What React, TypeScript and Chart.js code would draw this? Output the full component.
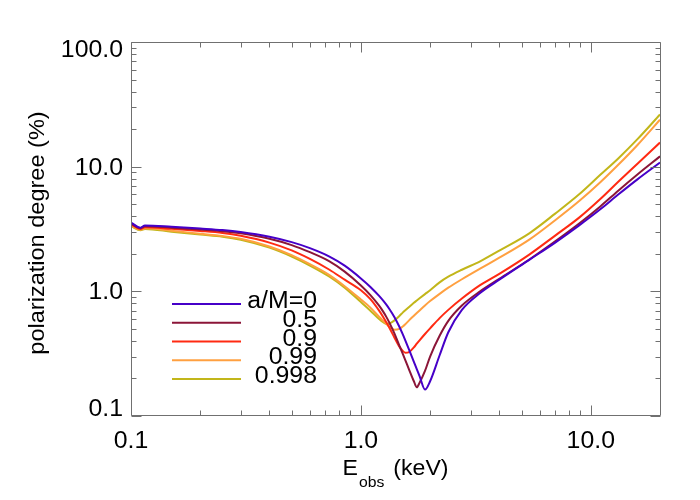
import React, { useEffect, useRef } from "react";
import { Chart, registerables } from "chart.js";
Chart.register(...registerables);

// ---------- data ----------
const energyKeV = [0.1, 0.11, 0.115, 0.15, 0.2, 0.25, 0.3, 0.4, 0.5, 0.6, 0.73, 0.85, 1.0, 1.1, 1.2, 1.25, 1.29, 1.33, 1.4, 1.47, 1.52, 1.56, 1.62, 1.7, 1.75, 1.8, 1.9, 2.0, 2.2, 2.4, 2.75, 3.3, 4, 5.4, 7, 8.9, 11, 13.2, 16, 20];

const polA0 = [3.56, 3.24, 3.38, 3.30, 3.19, 3.10, 2.99, 2.74, 2.48, 2.22, 1.90, 1.607, 1.27, 1.085, 0.919, 0.842, 0.782, 0.722, 0.620, 0.520, 0.453, 0.404, 0.340, 0.272, 0.238, 0.209, 0.163, 0.19, 0.307, 0.47, 0.71, 0.97, 1.24, 1.79, 2.46, 3.38, 4.55, 6.0, 7.95, 10.8];
const polA05 = [3.5, 3.21, 3.33, 3.24, 3.13, 3.04, 2.92, 2.64, 2.35, 2.06, 1.74, 1.44, 1.115, 0.933, 0.767, 0.687, 0.624, 0.561, 0.458, 0.367, 0.316, 0.281, 0.236, 0.19, 0.17, 0.185, 0.23, 0.30, 0.44, 0.58, 0.77, 1.0, 1.26, 1.80, 2.52, 3.5, 4.8, 6.45, 8.7, 12.1];
const polA09 = [3.45, 3.16, 3.27, 3.17, 3.05, 2.94, 2.79, 2.46, 2.13, 1.82, 1.49, 1.24, 1.02, 0.865, 0.70, 0.623, 0.564, 0.51, 0.425, 0.36, 0.333, 0.322, 0.326, 0.355, 0.38, 0.405, 0.455, 0.505, 0.61, 0.71, 0.875, 1.12, 1.38, 1.97, 2.8, 3.9, 5.5, 7.6, 10.6, 15.6];
const polA099 = [3.38, 3.12, 3.2, 3.06, 2.9, 2.78, 2.64, 2.29, 1.95, 1.65, 1.35, 1.1, 0.86, 0.74, 0.625, 0.58, 0.548, 0.52, 0.492, 0.50, 0.522, 0.545, 0.585, 0.637, 0.67, 0.703, 0.77, 0.835, 0.955, 1.07, 1.25, 1.52, 1.86, 2.6, 3.72, 5.3, 7.5, 10.4, 15.0, 23.8];
const polA0998 = [3.33, 3.09, 3.16, 3.01, 2.85, 2.74, 2.59, 2.24, 1.90, 1.61, 1.31, 1.07, 0.82, 0.70, 0.60, 0.565, 0.548, 0.552, 0.585, 0.635, 0.675, 0.705, 0.75, 0.81, 0.845, 0.88, 0.95, 1.02, 1.18, 1.31, 1.49, 1.74, 2.12, 2.92, 4.2, 6.0, 8.6, 11.7, 16.7, 26.2];

const seriesLabels = ["a/M=0", "0.5", "0.9", "0.99", "0.998"];
const seriesColors = ["#4600c8", "#8b1538", "#ff2a12", "#ffa040", "#c2b61a"];
const seriesValues = [polA0, polA05, polA09, polA099, polA0998];

const xMajorTicks = [0.1, 1, 10];
const xMajorLabels = ["0.1", "1.0", "10.0"];
const xMinorTicks = [0.2, 0.3, 0.4, 0.5, 0.6, 0.7, 0.8, 0.9, 2, 3, 4, 5, 6, 7, 8, 9];
const yMajorTicks = [0.1, 1, 10, 100];
const yMajorLabels = ["0.1", "1.0", "10.0", "100.0"];
const yMinorTicks = [0.2, 0.3, 0.4, 0.5, 0.6, 0.7, 0.8, 0.9, 2, 3, 4, 5, 6, 7, 8, 9, 20, 30, 40, 50, 60, 70, 80, 90];

const xTitleMain = "E";
const xTitleSub = "obs";
const xTitleUnit = "(keV)";
const yTitle = "polarization degree (%)";

const FONT = '"Liberation Sans", Arial, Helvetica, sans-serif';

function stretchText(ctx: CanvasRenderingContext2D, text: string, x: number, y: number, align: CanvasTextAlign, size: number, sx: number) {
  ctx.save();
  ctx.translate(x, y);
  ctx.scale(sx, 1);
  ctx.font = `${size}px ${FONT}`;
  ctx.textAlign = align;
  ctx.textBaseline = "alphabetic";
  ctx.fillText(text, 0, 0);
  ctx.restore();
}

const idlFrame = {
  id: "idlFrame",
  afterDatasetsDraw(chart: any) {
    const ctx = chart.ctx as CanvasRenderingContext2D;
    const a = chart.chartArea;
    const xs = chart.scales.x;
    const ys = chart.scales.y;
    const L = Math.round(a.left) + 0.5;
    const R = Math.round(a.right) + 0.5;
    const T = Math.round(a.top) + 0.5;
    const B = Math.round(a.bottom) - 0.5;
    ctx.save();
    ctx.strokeStyle = "#707070";
    ctx.lineWidth = 1;
    ctx.beginPath();
    ctx.rect(L, T, R - L, B - T);
    ctx.stroke();

    ctx.beginPath();
    const xt = (v: number, len: number) => {
      const px = Math.round(xs.getPixelForValue(v)) + 0.5;
      ctx.moveTo(px, B);
      ctx.lineTo(px, B - len);
      ctx.moveTo(px, T);
      ctx.lineTo(px, T + len);
    };
    const yt = (v: number, len: number) => {
      const py = Math.round(ys.getPixelForValue(v)) + 0.5;
      ctx.moveTo(L, py);
      ctx.lineTo(L + len, py);
      ctx.moveTo(R, py);
      ctx.lineTo(R - len, py);
    };
    xMajorTicks.forEach((v) => xt(v, 10));
    xMinorTicks.forEach((v) => xt(v, 5));
    yMajorTicks.forEach((v) => yt(v, 10));
    yMinorTicks.forEach((v) => yt(v, 5));
    ctx.stroke();

    // tick labels
    ctx.fillStyle = "#000";
    xMajorTicks.forEach((v, i) => {
      stretchText(ctx, xMajorLabels[i], xs.getPixelForValue(v), 448, "center", 23, 1.08);
    });
    yMajorTicks.forEach((v, i) => {
      let cy = ys.getPixelForValue(v);
      cy = Math.min(Math.max(cy, a.top + 7), a.bottom - 8);
      stretchText(ctx, yMajorLabels[i], a.left - 8, cy + 8, "right", 23, 1.08);
    });

    // x title with subscript
    const sxT = 1.05;
    ctx.font = `22px ${FONT}`;
    const wE = ctx.measureText(xTitleMain).width * sxT;
    const wU = ctx.measureText(xTitleUnit).width * sxT;
    ctx.font = `15px ${FONT}`;
    const wS = ctx.measureText(xTitleSub).width * sxT;
    const gap = 10;
    const total = wE + wS + gap + wU;
    const x0 = (a.left + a.right) / 2 - total / 2;
    stretchText(ctx, xTitleMain, x0, 475, "left", 22, sxT);
    stretchText(ctx, xTitleSub, x0 + wE + 1, 487, "left", 15, sxT);
    stretchText(ctx, xTitleUnit, x0 + wE + wS + gap, 475, "left", 22, sxT);

    // y title
    ctx.save();
    ctx.translate(44, (a.top + a.bottom) / 2 + 4);
    ctx.rotate(-Math.PI / 2);
    stretchText(ctx, yTitle, 0, 0, "center", 22, 1.07);
    ctx.restore();

    // legend
    const legendY0 = 304;
    const legendStep = 18.75;
    seriesLabels.forEach((lab, i) => {
      const y = legendY0 + i * legendStep;
      ctx.strokeStyle = seriesColors[i];
      ctx.lineWidth = 2;
      ctx.beginPath();
      ctx.moveTo(172, y);
      ctx.lineTo(241, y);
      ctx.stroke();
      ctx.fillStyle = "#000";
      stretchText(ctx, lab, 317, y + 4, "right", 23, 1.08);
    });
    ctx.restore();
  },
};

export default function App() {
  const ref = useRef<HTMLCanvasElement>(null);
  useEffect(() => {
    if (!ref.current) return;
    const chart = new Chart(ref.current, {
      type: "line",
      data: {
        datasets: seriesValues.map((vals, i) => ({
          label: seriesLabels[i],
          data: energyKeV.map((e, j) => ({ x: e, y: vals[j] })),
          borderColor: seriesColors[i],
          backgroundColor: seriesColors[i],
          borderWidth: 2,
          pointRadius: 0,
          cubicInterpolationMode: "monotone" as const,
          fill: false,
        })),
      },
      options: {
        responsive: false,
        animation: false,
        devicePixelRatio: 1,
        layout: { padding: { left: 131, right: 40, top: 42, bottom: 84 } },
        scales: {
          x: { type: "logarithmic", min: 0.1, max: 20, display: false },
          y: { type: "logarithmic", min: 0.1, max: 100, display: false },
        },
        plugins: { legend: { display: false }, tooltip: { enabled: false } },
      },
      plugins: [idlFrame],
    });
    return () => chart.destroy();
  }, []);
  return (
    <div style={{ position: "fixed", left: 0, top: 0, width: 700, height: 500, background: "#fff" }}>
      <canvas ref={ref} width={700} height={500} style={{ display: "block" }} />
    </div>
  );
}
